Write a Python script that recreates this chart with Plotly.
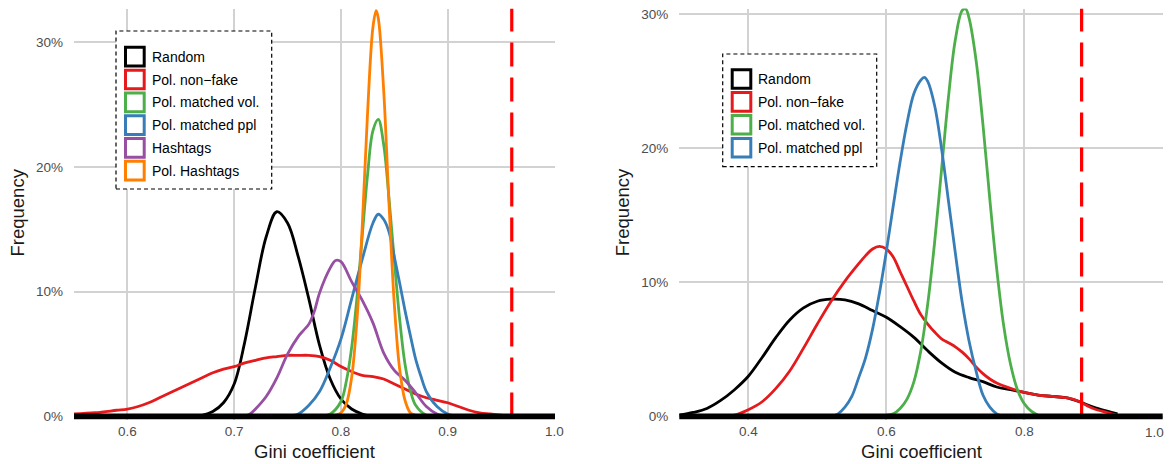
import plotly.graph_objects as go

# ---------------- data ----------------
series_left = ["Random", "Pol. non\u2212fake", "Pol. matched vol.", "Pol. matched ppl", "Hashtags", "Pol. Hashtags"]
series_right = ["Random", "Pol. non\u2212fake", "Pol. matched vol.", "Pol. matched ppl"]
colors = ["#000000", "#E41A1C", "#4DAF4A", "#377EB8", "#984EA3", "#FF7F00"]

# Left panel
left_random_x = [0.66, 0.67, 0.68, 0.69, 0.70, 0.71, 0.72, 0.73, 0.74, 0.75, 0.76, 0.77, 0.78, 0.79, 0.80, 0.81, 0.82, 0.83]
left_random_y = [0.000, 0.001, 0.004, 0.011, 0.026, 0.060, 0.104, 0.144, 0.164, 0.155, 0.128, 0.094, 0.057, 0.030, 0.014, 0.006, 0.002, 0.000]

left_nonfake_x = [0.55, 0.57, 0.59, 0.60, 0.61, 0.62, 0.63, 0.64, 0.65, 0.66, 0.67, 0.68, 0.69, 0.70, 0.71, 0.72,
                  0.73, 0.74, 0.75, 0.76, 0.77, 0.78, 0.79, 0.80, 0.81, 0.82, 0.83, 0.84, 0.85, 0.86, 0.87, 0.88,
                  0.89, 0.90, 0.91, 0.92, 0.93, 0.94, 0.95, 0.96]
left_nonfake_y = [0.002, 0.003, 0.005, 0.006, 0.008, 0.011, 0.015, 0.019, 0.023, 0.027, 0.031, 0.035, 0.038, 0.040, 0.043, 0.045,
                  0.047, 0.048, 0.049, 0.049, 0.049, 0.048, 0.045, 0.040, 0.036, 0.033, 0.032, 0.030, 0.026, 0.022, 0.018, 0.015,
                  0.013, 0.011, 0.008, 0.005, 0.003, 0.002, 0.001, 0.000]

left_vol_x = [0.78, 0.79, 0.80, 0.805, 0.81, 0.815, 0.82, 0.825, 0.83, 0.835, 0.84, 0.845, 0.85, 0.855, 0.86, 0.865, 0.87, 0.88, 0.89]
left_vol_y = [0.000, 0.002, 0.012, 0.028, 0.055, 0.095, 0.145, 0.194, 0.229, 0.238, 0.218, 0.175, 0.125, 0.078, 0.042, 0.021, 0.009, 0.001, 0.000]

left_ppl_x = [0.75, 0.76, 0.77, 0.78, 0.79, 0.80, 0.81, 0.82, 0.83, 0.835, 0.84, 0.845, 0.85, 0.855, 0.86, 0.865, 0.87, 0.875, 0.88, 0.89, 0.90, 0.91]
left_ppl_y = [0.000, 0.002, 0.009, 0.020, 0.039, 0.062, 0.094, 0.126, 0.155, 0.162, 0.158, 0.148, 0.128, 0.107, 0.085, 0.065, 0.046, 0.032, 0.020, 0.008, 0.002, 0.000]

left_hash_x = [0.71, 0.715, 0.72, 0.73, 0.74, 0.75, 0.76, 0.765, 0.77, 0.775, 0.78, 0.79, 0.795, 0.80, 0.81, 0.82, 0.83, 0.84, 0.85, 0.86, 0.87, 0.88, 0.89, 0.90]
left_hash_y = [0.000, 0.002, 0.006, 0.016, 0.031, 0.050, 0.064, 0.069, 0.074, 0.084, 0.099, 0.119, 0.125, 0.124, 0.108, 0.093, 0.075, 0.051, 0.037, 0.029, 0.019, 0.008, 0.002, 0.000]

left_polhash_x = [0.79, 0.80, 0.805, 0.81, 0.815, 0.82, 0.825, 0.83, 0.833, 0.835, 0.84, 0.845, 0.85, 0.855, 0.86, 0.865, 0.87, 0.875]
left_polhash_y = [0.000, 0.003, 0.010, 0.031, 0.077, 0.153, 0.244, 0.312, 0.325, 0.319, 0.262, 0.171, 0.090, 0.038, 0.013, 0.003, 0.001, 0.000]

left_threshold = 0.96

# Right panel
right_random_x = [0.30, 0.32, 0.34, 0.36, 0.38, 0.40, 0.42, 0.44, 0.46, 0.48, 0.50, 0.52, 0.54, 0.56, 0.58, 0.60, 0.62,
                  0.64, 0.66, 0.68, 0.70, 0.72, 0.74, 0.76, 0.78, 0.80, 0.82, 0.84, 0.86, 0.88, 0.90, 0.92, 0.935]
right_random_y = [0.001, 0.003, 0.006, 0.012, 0.020, 0.030, 0.044, 0.059, 0.072, 0.081, 0.086, 0.0875, 0.087, 0.084, 0.079, 0.074, 0.067,
                  0.059, 0.049, 0.040, 0.033, 0.029, 0.026, 0.022, 0.020, 0.018, 0.016, 0.015, 0.014, 0.011, 0.007, 0.004, 0.002]

right_nonfake_x = [0.36, 0.38, 0.40, 0.42, 0.44, 0.46, 0.48, 0.50, 0.52, 0.54, 0.56, 0.57, 0.58, 0.59, 0.60, 0.61, 0.62,
                   0.63, 0.64, 0.65, 0.66, 0.67, 0.68, 0.69, 0.70, 0.71, 0.72, 0.73, 0.74, 0.75, 0.76, 0.78, 0.80,
                   0.82, 0.84, 0.86, 0.87, 0.88, 0.90, 0.92, 0.935]
right_nonfake_y = [0.000, 0.001, 0.005, 0.011, 0.021, 0.034, 0.051, 0.069, 0.086, 0.101, 0.114, 0.120, 0.125, 0.127, 0.125, 0.119, 0.108,
                   0.097, 0.086, 0.076, 0.069, 0.063, 0.058, 0.055, 0.052, 0.048, 0.043, 0.037, 0.032, 0.028, 0.025, 0.021, 0.018,
                   0.016, 0.015, 0.014, 0.013, 0.011, 0.006, 0.003, 0.001]

right_vol_x = [0.60, 0.61, 0.62, 0.63, 0.64, 0.65, 0.66, 0.67, 0.68, 0.69, 0.70, 0.71, 0.715, 0.72, 0.73, 0.74, 0.75,
               0.76, 0.77, 0.78, 0.79, 0.80, 0.81, 0.82]
right_vol_y = [0.001, 0.002, 0.006, 0.013, 0.026, 0.049, 0.084, 0.130, 0.184, 0.238, 0.281, 0.303, 0.304, 0.297, 0.266, 0.218, 0.162,
               0.110, 0.068, 0.039, 0.020, 0.0095, 0.004, 0.001]

right_ppl_x = [0.52, 0.53, 0.54, 0.55, 0.56, 0.57, 0.58, 0.59, 0.60, 0.61, 0.62, 0.63, 0.64, 0.65, 0.655, 0.66, 0.67,
               0.68, 0.69, 0.70, 0.71, 0.72, 0.73, 0.74, 0.75, 0.76, 0.77]
right_ppl_y = [0.000, 0.002, 0.007, 0.015, 0.029, 0.044, 0.065, 0.092, 0.123, 0.157, 0.190, 0.219, 0.241, 0.251, 0.253, 0.250, 0.232,
               0.200, 0.161, 0.122, 0.085, 0.056, 0.034, 0.016, 0.007, 0.002, 0.000]

right_threshold = 0.883

left_x_ticks = [0.6, 0.7, 0.8, 0.9, 1.0]
right_x_ticks = [0.4, 0.6, 0.8, 1.0]
y_ticks = [0.0, 0.1, 0.2, 0.3]

left_series = [(left_random_x, left_random_y), (left_nonfake_x, left_nonfake_y), (left_vol_x, left_vol_y),
               (left_ppl_x, left_ppl_y), (left_hash_x, left_hash_y), (left_polhash_x, left_polhash_y)]
right_series = [(right_random_x, right_random_y), (right_nonfake_x, right_nonfake_y),
                (right_vol_x, right_vol_y), (right_ppl_x, right_ppl_y)]

# ---------------- layout geometry (window pixels) ----------------
# the page body adds an 8px margin, so the figure is offset by 8px
OFF = 8
W, H = 1175 - OFF, 464 - OFF
FONT = "Liberation Sans, Arial, Helvetica, sans-serif"
TICK_FONT = dict(family=FONT, size=13.5, color="#4D4D4D")


def px(x):
    return (x - OFF) / W


def py(y):
    return 1 - (y - OFF) / H


fig = go.Figure()

panels = [
    dict(xa="x", ya="y", series=left_series, names=series_left, xdom=(74, 555), xrange=(0.55, 1.0005),
         yrange=(-0.0024, 0.3268), xticks=left_x_ticks, thr=left_threshold),
    dict(xa="x2", ya="y2", series=right_series, names=series_right, xdom=(679.3, 1162.7), xrange=(0.3, 1.0005),
         yrange=(-0.00224, 0.3044), xticks=right_x_ticks, thr=right_threshold),
]
ytop, ybot = 8.5, 419.5
ymid = (8.5 + 416.5) / 2

for p in panels:
    for (xs, ys), name, col in zip(p["series"], p["names"], colors):
        fig.add_trace(go.Scatter(x=xs, y=ys, mode="lines", name=name, showlegend=False,
                                 line=dict(color=col, width=2.8, shape="spline", smoothing=1.0),
                                 xaxis=p["xa"], yaxis=p["ya"]))
    # threshold line
    fig.add_shape(type="line", xref=p["xa"], yref=p["ya"], x0=p["thr"], x1=p["thr"], y0=0, y1=p["yrange"][1],
                  line=dict(color="#FF0000", width=3.2, dash="24px,11px"), layer="above")
    # baseline
    fig.add_shape(type="line", xref=p["xa"] + " domain", yref=p["ya"], x0=0, x1=1, y0=0, y1=0,
                  line=dict(color="#000000", width=6), layer="above")

axis_common = dict(showgrid=True, gridcolor="#D2D2D2", gridwidth=2, zeroline=False, showline=False,
                   ticks="", automargin=False, ticklabeloverflow="allow", tickfont=TICK_FONT)

layout_axes = {}
for i, p in enumerate(panels):
    sfx = "" if i == 0 else "2"
    ticktext = ["%.1f" % v for v in p["xticks"]]
    if i == 1:
        # the last label sits at the window edge; it is written separately just inside it
        ticktext[-1] = ""
    layout_axes["xaxis" + sfx] = dict(axis_common, domain=[px(p["xdom"][0]), px(p["xdom"][1])], range=list(p["xrange"]),
                                      tickvals=p["xticks"], ticktext=ticktext, anchor="y" + sfx, ticklabelstandoff=2)
    layout_axes["yaxis" + sfx] = dict(axis_common, domain=[py(ybot), py(ytop)], range=list(p["yrange"]),
                                      tickvals=y_ticks, tickformat=".0%", anchor="x" + sfx, ticklabelstandoff=10)

fig.update_layout(width=W, height=H, margin=dict(l=0, r=0, t=0, b=0), plot_bgcolor="white", paper_bgcolor="white",
                  showlegend=False, font=dict(family=FONT), **layout_axes)

fig.add_annotation(x=px(1166), y=py(432), xref="paper", yref="paper", text="%.1f" % right_x_ticks[-1],
                   showarrow=False, font=TICK_FONT, xanchor="right", yanchor="middle")

# axis titles
title_font = dict(family=FONT, size=18.5, color="#1A1A1A")
for p, fx in zip(panels, (17, 622.7)):
    cx = (p["xdom"][0] + p["xdom"][1]) / 2
    fig.add_annotation(x=px(cx), y=py(451), xref="paper", yref="paper", text="Gini coefficient", showarrow=False,
                       font=title_font, xanchor="center", yanchor="middle")
    fig.add_annotation(x=px(fx), y=py(ymid), xref="paper", yref="paper", text="Frequency",
                       showarrow=False, font=title_font, textangle=-90, xanchor="center", yanchor="middle")

# legends (dashed box, outlined squares, labels)
legends = [
    dict(names=series_left, box=(116, 31, 271.7, 189), sq_x=(125.5, 144.2), y0=56.7, step=22.8, tx=150),
    dict(names=series_right, box=(722.7, 54, 876.7, 166.7), sq_x=(732.2, 750.8), y0=79, step=22.9, tx=756),
]
for lg in legends:
    bx0, by0, bx1, by1 = lg["box"]
    fig.add_shape(type="rect", xref="paper", yref="paper", x0=px(bx0), x1=px(bx1), y0=py(by1), y1=py(by0),
                  line=dict(color="black", width=1.2, dash="4px,3px"), fillcolor="rgba(255,255,255,1)", layer="above")
    for k, (name, col) in enumerate(zip(lg["names"], colors)):
        cy = lg["y0"] + k * lg["step"]
        half = (lg["sq_x"][1] - lg["sq_x"][0]) / 2
        fig.add_shape(type="rect", xref="paper", yref="paper", x0=px(lg["sq_x"][0]), x1=px(lg["sq_x"][1]),
                      y0=py(cy + half), y1=py(cy - half), line=dict(color=col, width=3), fillcolor="white",
                      layer="above")
        fig.add_annotation(x=px(lg["tx"]), y=py(cy), xref="paper", yref="paper", text=name, showarrow=False,
                           font=dict(family=FONT, size=14, color="black"), xanchor="left", yanchor="middle")

fig.write_html("out.html")
